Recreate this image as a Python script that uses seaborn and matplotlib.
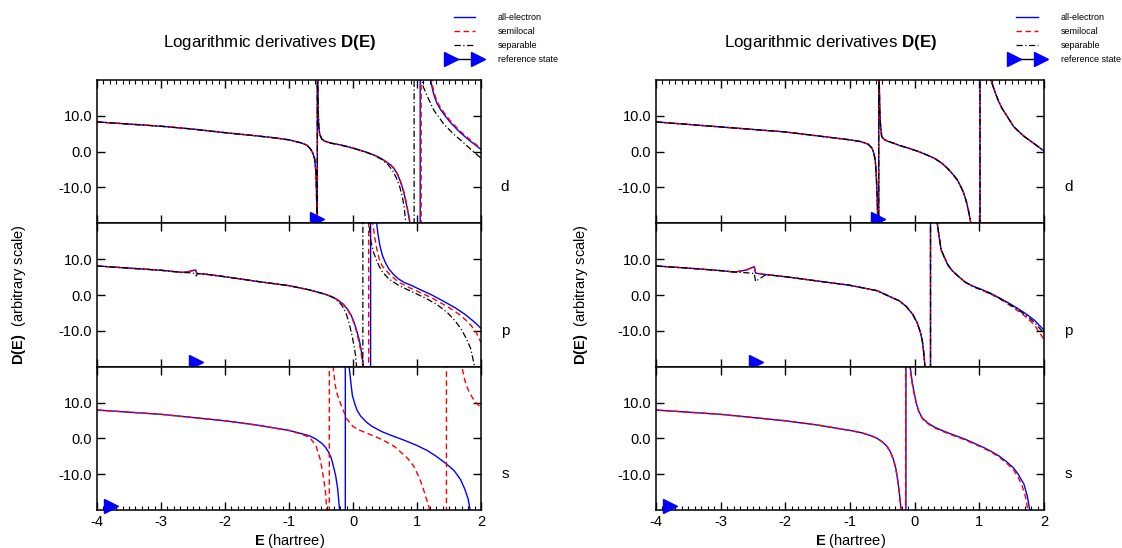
import matplotlib
matplotlib.use("Agg")
import matplotlib.pyplot as plt
import seaborn as sns
from matplotlib.lines import Line2D
from matplotlib.legend_handler import HandlerLine2D
from matplotlib.ticker import MultipleLocator, NullLocator, FormatStrFormatter

# values; +-25 marks the jump through a pole (off scale)

# ----- left panel, d channel -----
L_d_E = [-4.0, -3.5, -3.0, -2.5, -2.0, -1.5, -1.2, -1.0, -0.8, -0.72, -0.67, -0.63, -0.6, -0.58, -0.57, -0.565,
         -0.558, -0.558, -0.55, -0.545, -0.535, -0.52, -0.49, -0.45, -0.35, -0.2, 0.0, 0.2, 0.35, 0.45, 0.58,
         0.64, 0.69, 0.73, 0.77, 0.8, 0.83, 0.86, 0.89, 1.05, 1.05, 1.215, 1.23, 1.25, 1.28, 1.315, 1.36, 1.415,
         1.515, 1.665, 1.815, 2.0]
L_d_ae = [8.3, 7.7, 7.1, 6.3, 5.3, 4.4, 3.8, 3.3, 2.4, 1.8, 0.9, -0.3, -2.0, -5.5, -11.0, -20.0,
          -25, 25, 20.0, 12.0, 7.0, 4.8, 3.6, 3.0, 2.4, 1.9, 1.0, -0.1, -1.1, -2.0, -3.6,
          -4.7, -6.1, -7.8, -9.9, -11.8, -14.3, -17.0, -20.0, -25, 25, 20.0, 18.5, 16.8, 15.0, 13.4, 12.0, 10.6,
          8.3, 5.5, 3.2, 0.65]
L_d_E_sl = [-4.0, -3.5, -3.0, -2.5, -2.0, -1.5, -1.2, -1.0, -0.8, -0.72, -0.67, -0.63, -0.6, -0.58, -0.57, -0.565,
            -0.556, -0.556, -0.55, -0.545, -0.535, -0.52, -0.49, -0.45, -0.35, -0.2, 0.0, 0.2, 0.35, 0.45, 0.58,
            0.64, 0.69, 0.73, 0.77, 0.8, 0.83, 0.86, 0.895, 1.065, 1.065, 1.225, 1.24, 1.26, 1.29, 1.325, 1.37,
            1.425, 1.525, 1.675, 1.825, 2.0]
L_d_sl = [8.3, 7.7, 7.1, 6.3, 5.3, 4.4, 3.8, 3.3, 2.4, 1.8, 0.9, -0.3, -2.0, -5.5, -11.0, -20.0,
          -25, 25, 20.0, 12.0, 7.0, 4.8, 3.6, 3.0, 2.4, 1.9, 1.0, -0.1, -1.1, -2.0, -3.5,
          -4.6, -6.0, -7.6, -9.7, -11.6, -14.0, -16.7, -20.0, -25, 25, 20.0, 18.6, 17.0, 15.2, 13.6, 12.2, 10.8,
          8.5, 5.7, 3.4, 0.8]
L_d_E_sp = [-4.0, -3.5, -3.0, -2.5, -2.0, -1.5, -1.2, -1.0, -0.8, -0.72, -0.67, -0.63, -0.6, -0.58, -0.57, -0.565,
            -0.558, -0.558, -0.55, -0.545, -0.535, -0.52, -0.49, -0.45, -0.35, -0.2, 0.0, 0.2, 0.35, 0.45, 0.55,
            0.62, 0.68, 0.73, 0.77, 0.8, 0.825, 0.955, 0.955, 1.075, 1.1, 1.165, 1.265, 1.415, 1.565, 1.715,
            1.85, 2.0]
L_d_sp = [8.3, 7.7, 7.1, 6.3, 5.3, 4.4, 3.8, 3.3, 2.4, 1.8, 0.9, -0.3, -2.0, -5.5, -11.0, -20.0,
          -25, 25, 20.0, 12.0, 7.0, 4.8, 3.6, 3.0, 2.4, 1.9, 1.0, -0.1, -1.2, -2.2, -3.7,
          -5.3, -7.4, -9.8, -12.5, -15.5, -20.0, -25, 25, 20.0, 18.0, 15.3, 11.5, 7.8, 5.0, 2.7,
          0.5, -1.8]

# ----- left panel, p channel -----
L_p_E_ae = [-4.0, -3.5, -3.0, -2.67, -2.55, -2.46, -2.44, -2.3, -2.0, -1.5, -1.0, -0.7, -0.43, -0.3, -0.23, -0.15,
            -0.085, -0.03, 0.015, 0.05, 0.09, 0.12, 0.14, 0.165, 0.275, 0.275, 0.37, 0.39, 0.42, 0.46, 0.51, 0.56,
            0.63, 0.71, 0.8, 0.91, 1.05, 1.2, 1.4, 1.6, 1.75, 1.9, 2.0]
L_p_ae = [8.1, 7.5, 6.9, 6.3, 6.6, 7.0, 6.0, 5.8, 5.1, 3.8, 2.6, 1.5, 0.2, -0.7, -1.5, -2.6,
          -4.0, -5.6, -7.5, -9.5, -12.0, -14.5, -16.8, -20.0, -25, 25, 20.0, 17.0, 13.8, 11.0, 8.9, 7.3,
          5.8, 4.5, 3.5, 2.7, 1.5, 0.3, -1.6, -3.6, -5.4, -7.6, -9.3]
L_p_E_sl = [-4.0, -3.5, -3.0, -2.67, -2.55, -2.46, -2.44, -2.3, -2.0, -1.5, -1.0, -0.7, -0.43, -0.3, -0.23, -0.15,
            -0.085, -0.03, 0.015, 0.05, 0.085, 0.115, 0.135, 0.155, 0.245, 0.245, 0.31, 0.34, 0.37, 0.41, 0.46,
            0.56, 0.71, 0.91, 1.21, 1.5, 1.65, 1.75, 1.85, 1.93, 2.0]
L_p_sl = [8.1, 7.5, 6.9, 6.3, 6.6, 7.0, 6.0, 5.8, 5.1, 3.8, 2.6, 1.5, 0.2, -0.7, -1.5, -2.6,
          -4.1, -5.8, -7.8, -9.9, -12.4, -15.0, -17.2, -20.0, -25, 25, 20.0, 16.0, 13.0, 10.0, 8.0,
          6.0, 3.6, 1.8, -0.6, -3.5, -5.3, -6.8, -8.6, -10.6, -13.3]
L_p_E_sp = [-4.0, -3.5, -3.0, -2.67, -2.5, -2.45, -2.43, -2.3, -2.0, -1.5, -1.0, -0.7, -0.43, -0.3, -0.23, -0.17,
            -0.12, -0.085, -0.05, -0.01, 0.02, 0.04, 0.055, 0.154, 0.154, 0.25, 0.28, 0.32, 0.36, 0.41, 0.46,
            0.56, 0.71, 0.91, 1.1, 1.3, 1.48, 1.6, 1.7, 1.78, 1.84, 1.9]
L_p_sp = [8.1, 7.5, 6.9, 6.3, 6.15, 5.3, 6.0, 5.8, 5.1, 3.8, 2.6, 1.5, 0.2, -0.8, -1.8, -3.0,
          -4.6, -6.4, -8.6, -11.8, -14.5, -17.0, -20.0, -25, 25, 20.0, 15.0, 12.0, 10.0, 8.0, 6.4,
          4.5, 2.7, 1.0, -0.6, -2.5, -5.0, -7.3, -9.8, -12.5, -15.0, -20.0]

# ----- left panel, s channel -----
L_s_E_ae = [-4.0, -3.5, -3.0, -2.5, -2.0, -1.5, -1.0, -0.8, -0.68, -0.58, -0.48, -0.43, -0.38, -0.34, -0.31,
            -0.27, -0.24, -0.21, -0.12, -0.12, -0.06, -0.03, -0.01, 0.03, 0.065, 0.12, 0.21, 0.3, 0.46, 0.6,
            0.81, 1.0, 1.16, 1.3, 1.45, 1.58, 1.68, 1.75, 1.8, 1.83]
L_s_ae = [7.9, 7.3, 6.7, 5.8, 4.9, 3.7, 2.2, 1.3, 0.7, -0.2, -1.5, -2.5, -3.9, -5.5, -7.5,
          -10.5, -14.0, -20.0, -25, 25, 20.0, 15.0, 12.0, 9.5, 7.8, 6.2, 4.5, 3.3, 1.8, 0.8,
          -0.6, -2.0, -3.4, -5.0, -7.0, -9.0, -11.5, -14.3, -17.0, -20.0]
L_s_E_sl = [-4.0, -3.5, -3.0, -2.5, -2.0, -1.5, -1.0, -0.8, -0.68, -0.58, -0.51, -0.46, -0.43, -0.41, -0.37,
            -0.37, -0.31, -0.28, -0.25, -0.18, -0.1, 0.0, 0.1, 0.25, 0.45, 0.65, 0.85, 0.95, 1.01, 1.08, 1.14,
            1.2, 1.46, 1.46, 1.7, 1.75, 1.8, 1.87, 1.94, 2.0]
L_s_sl = [7.9, 7.3, 6.7, 5.8, 4.9, 3.7, 2.2, 1.1, 0.3, -2.0, -6.0, -11.0, -15.0, -20.0, -25,
          25, 20.0, 15.0, 12.5, 9.0, 5.5, 3.3, 2.3, 1.2, -0.3, -2.3, -5.5, -7.8, -10.0, -13.0, -16.5,
          -20.0, -25, 25, 20.0, 16.0, 13.5, 11.2, 9.6, 8.6]

# ----- right panel, d channel (all three curves on top of each other) -----
R_d_E = [-4.0, -3.5, -3.0, -2.5, -2.0, -1.5, -1.0, -0.83, -0.72, -0.66, -0.63, -0.61, -0.595, -0.58, -0.57,
         -0.556, -0.556, -0.548, -0.54, -0.53, -0.51, -0.47, -0.43, -0.3, -0.23, -0.1, 0.065, 0.2, 0.31, 0.42,
         0.51, 0.59, 0.66, 0.72, 0.76, 0.8, 0.83, 0.87, 1.01, 1.01, 1.18, 1.22, 1.26, 1.3, 1.35, 1.45, 1.53,
         1.6, 1.69, 1.85, 2.0]
R_d_ae = [8.3, 7.6, 6.9, 6.2, 5.5, 4.4, 3.3, 2.8, 2.1, 1.0, -0.5, -2.3, -6.0, -12.6, -20.0,
          -25, 25, 20.0, 12.0, 7.9, 4.2, 3.4, 3.0, 2.2, 1.7, 1.0, 0.0, -1.0, -1.9, -3.2,
          -4.7, -6.3, -7.9, -10.0, -11.6, -14.0, -16.3, -20.0, -25, 25, 20.0, 17.8, 15.8, 14.0, 12.1, 9.3, 7.0,
          5.8, 4.3, 2.2, 0.2]

# ----- right panel, p channel -----
R_p_E = [-4.0, -3.5, -3.0, -2.78, -2.6, -2.48, -2.46, -2.3, -2.0, -1.5, -1.0, -0.58, -0.33, -0.24, -0.13, -0.03,
         0.04, 0.09, 0.12, 0.14, 0.16, 0.245, 0.245, 0.35, 0.38, 0.41, 0.46, 0.51, 0.58, 0.67, 0.78, 0.91, 1.0,
         1.16, 1.31, 1.45, 1.58, 1.7, 1.85, 2.0]
R_p_ae = [8.1, 7.5, 6.8, 6.4, 7.0, 7.9, 6.1, 5.7, 5.1, 3.9, 2.7, 1.2, -0.9, -1.6, -3.2, -5.4,
          -7.8, -10.5, -13.0, -16.0, -20.0, -25, 25, 20.0, 16.0, 12.6, 10.5, 8.5, 6.8, 5.3, 3.6, 2.4, 1.8,
          0.6, -0.8, -2.2, -3.6, -5.0, -7.0, -9.8]
R_p_sl = [8.1, 7.5, 6.8, 6.4, 7.0, 7.9, 6.1, 5.7, 5.1, 3.9, 2.7, 1.2, -0.9, -1.6, -3.2, -5.4,
          -7.8, -10.5, -13.0, -16.0, -20.0, -25, 25, 20.0, 16.0, 12.6, 10.5, 8.5, 6.8, 5.3, 3.6, 2.3, 1.6,
          0.4, -1.0, -2.6, -4.2, -5.8, -8.3, -12.4]
R_p_sp = [8.1, 7.5, 6.8, 6.4, 6.2, 6.0, 3.8, 5.7, 5.1, 3.9, 2.7, 1.2, -0.9, -1.6, -3.2, -5.4,
          -7.8, -10.5, -13.0, -16.0, -20.0, -25, 25, 20.0, 16.0, 12.6, 10.5, 8.5, 6.8, 5.3, 3.6, 2.3, 1.7,
          0.5, -0.9, -2.4, -3.9, -5.4, -7.6, -10.7]

# ----- right panel, s channel -----
R_s_E = [-4.0, -3.5, -3.0, -2.5, -2.0, -1.5, -1.0, -0.83, -0.67, -0.58, -0.5, -0.43, -0.38, -0.33, -0.29, -0.26,
         -0.235, -0.21, -0.135, -0.135, -0.07, -0.04, -0.01, 0.03, 0.065, 0.12, 0.21, 0.3, 0.41, 0.55, 0.76,
         0.9, 1.06, 1.2, 1.31, 1.42, 1.53, 1.6, 1.69, 1.74, 1.78]
R_s_ae = [7.9, 7.3, 6.7, 5.8, 4.9, 3.7, 2.2, 1.6, 0.7, 0.0, -1.0, -2.2, -3.6, -5.8, -8.5, -12.0,
          -15.5, -20.0, -25, 25, 20.0, 16.0, 12.9, 9.5, 7.5, 5.6, 4.2, 3.2, 2.3, 1.3, -0.1,
          -1.2, -2.5, -3.8, -5.0, -6.5, -8.3, -10.0, -12.8, -16.0, -20.0]
R_s_E_sl = [-4.0, -3.5, -3.0, -2.5, -2.0, -1.5, -1.0, -0.83, -0.67, -0.58, -0.5, -0.43, -0.38, -0.33, -0.29, -0.26,
            -0.235, -0.21, -0.14, -0.14, -0.075, -0.045, -0.015, 0.03, 0.065, 0.12, 0.21, 0.3, 0.41, 0.55, 0.76,
            0.9, 1.06, 1.2, 1.31, 1.42, 1.53, 1.6, 1.66, 1.71, 1.75]
R_s_sl = [7.9, 7.3, 6.7, 5.8, 4.9, 3.7, 2.2, 1.6, 0.7, 0.0, -1.0, -2.2, -3.6, -5.8, -8.5, -12.0,
          -15.5, -20.0, -25, 25, 20.0, 16.0, 12.9, 9.4, 7.4, 5.5, 4.0, 3.0, 2.1, 1.1, -0.3,
          -1.4, -2.7, -4.0, -5.3, -6.9, -8.8, -10.8, -13.2, -16.0, -20.0]

# reference-state energies (triangles) for d, p, s
ref_E_left = [-0.56, -2.45, -3.78]
ref_E_right = [-0.56, -2.45, -3.78]
channels = ["d", "p", "s"]

plt.rcParams["font.family"] = ["Liberation Sans", "DejaVu Sans"]
plt.rcParams["mathtext.fontset"] = "custom"
plt.rcParams["mathtext.rm"] = "Liberation Sans"
plt.rcParams["mathtext.bf"] = "Liberation Sans:bold"
plt.rcParams["axes.unicode_minus"] = False

AE = dict(color="#0000ff", linestyle="-", lw=1.0)
SL = dict(color="#ff0000", linestyle=(0, (4, 2.5)), lw=1.0)
SP = dict(color="black", linestyle=(0, (5, 2, 1, 2)), lw=0.9)

left_curves = [
    [(L_d_E, L_d_ae, AE), (L_d_E_sl, L_d_sl, SL), (L_d_E_sp, L_d_sp, SP)],
    [(L_p_E_ae, L_p_ae, AE), (L_p_E_sl, L_p_sl, SL), (L_p_E_sp, L_p_sp, SP)],
    [(L_s_E_ae, L_s_ae, AE), (L_s_E_sl, L_s_sl, SL)],
]
right_curves = [
    [(R_d_E, R_d_ae, AE), (R_d_E, R_d_ae, SL), (R_d_E, R_d_ae, SP)],
    [(R_p_E, R_p_ae, AE), (R_p_E, R_p_sl, SL), (R_p_E, R_p_sp, SP)],
    [(R_s_E, R_s_ae, AE), (R_s_E_sl, R_s_sl, SL)],
]

fig = plt.figure(figsize=(11.22, 5.48), dpi=100)

W, H = 1122.0, 548.0
top, bottom = 80, 510
sub_h = (bottom - top) / 3.0


def make_panel(x0, x1, curves, ref_E, ylabelpad):
    axes = []
    for i in range(3):
        y_top = top + i * sub_h
        ax = fig.add_axes([x0 / W, 1 - (y_top + sub_h) / H, (x1 - x0) / W, sub_h / H])
        for E, D, st in curves[i]:
            sns.lineplot(x=E, y=D, ax=ax, estimator=None, sort=False, **st)
        ax.plot([ref_E[i]], [-18.8], marker=">", color="#0000ff", ms=10, clip_on=False, zorder=5)
        ax.set_xlim(-4, 2)
        ax.set_ylim(-20, 20)
        ax.set_yticks([-10, 0, 10])
        ax.yaxis.set_major_formatter(FormatStrFormatter("%.1f"))
        ax.xaxis.set_major_locator(MultipleLocator(1))
        ax.tick_params(which="major", direction="in", top=True, bottom=True, left=True, right=True,
                       length=6, width=1, labelsize=10.5, labelbottom=(i == 2))
        if i == 0:
            ax.xaxis.set_minor_locator(MultipleLocator(0.1))
            ax.tick_params(which="minor", direction="in", top=True, bottom=False, length=3, width=0.8)
        elif i == 2:
            ax.xaxis.set_minor_locator(MultipleLocator(0.1))
            ax.tick_params(which="minor", direction="in", top=False, bottom=True, length=3, width=0.8)
        else:
            ax.xaxis.set_minor_locator(NullLocator())
        ax.set_xlabel("")
        ax.set_ylabel("")
        for sp in ax.spines.values():
            sp.set_linewidth(1.1)
        ax.text(1.0625, -10, channels[i], transform=ax.get_yaxis_transform(),
                ha="center", va="center", fontsize=11)
        axes.append(ax)

    axes[2].set_xlabel(r"$\mathbf{E}$ (hartree)", fontsize=10.5, labelpad=2)
    axes[1].set_ylabel(r"$\mathbf{D(E)}$  (arbitrary scale)", fontsize=10.5, labelpad=ylabelpad)
    axes[0].text(0.45, 1.265, r"Logarithmic derivatives $\mathbf{D(E)}$", transform=axes[0].transAxes,
                 ha="center", va="center", fontsize=12.2)

    ref_handle = Line2D([], [], color="black", lw=1, marker=">", mfc="#0000ff", mec="#0000ff", ms=9.5)
    handles = [
        Line2D([], [], **AE),
        Line2D([], [], **SL),
        Line2D([], [], **SP),
        ref_handle,
    ]
    labels = ["all-electron", "semilocal", "separable", "reference state"]
    axes[0].legend(handles, labels, loc="upper left", bbox_to_anchor=(0.922, 1.465), frameon=False,
                   fontsize=6.5, numpoints=2, handlelength=3.0, handletextpad=2.2, labelspacing=0.55,
                   borderpad=0, borderaxespad=0,
                   handler_map={ref_handle: HandlerLine2D(marker_pad=0.0, numpoints=2)})
    return axes


make_panel(97, 481, left_curves, ref_E_left, 22)
make_panel(656, 1044, right_curves, ref_E_right, 20)

fig.savefig("out.png", dpi=100)
